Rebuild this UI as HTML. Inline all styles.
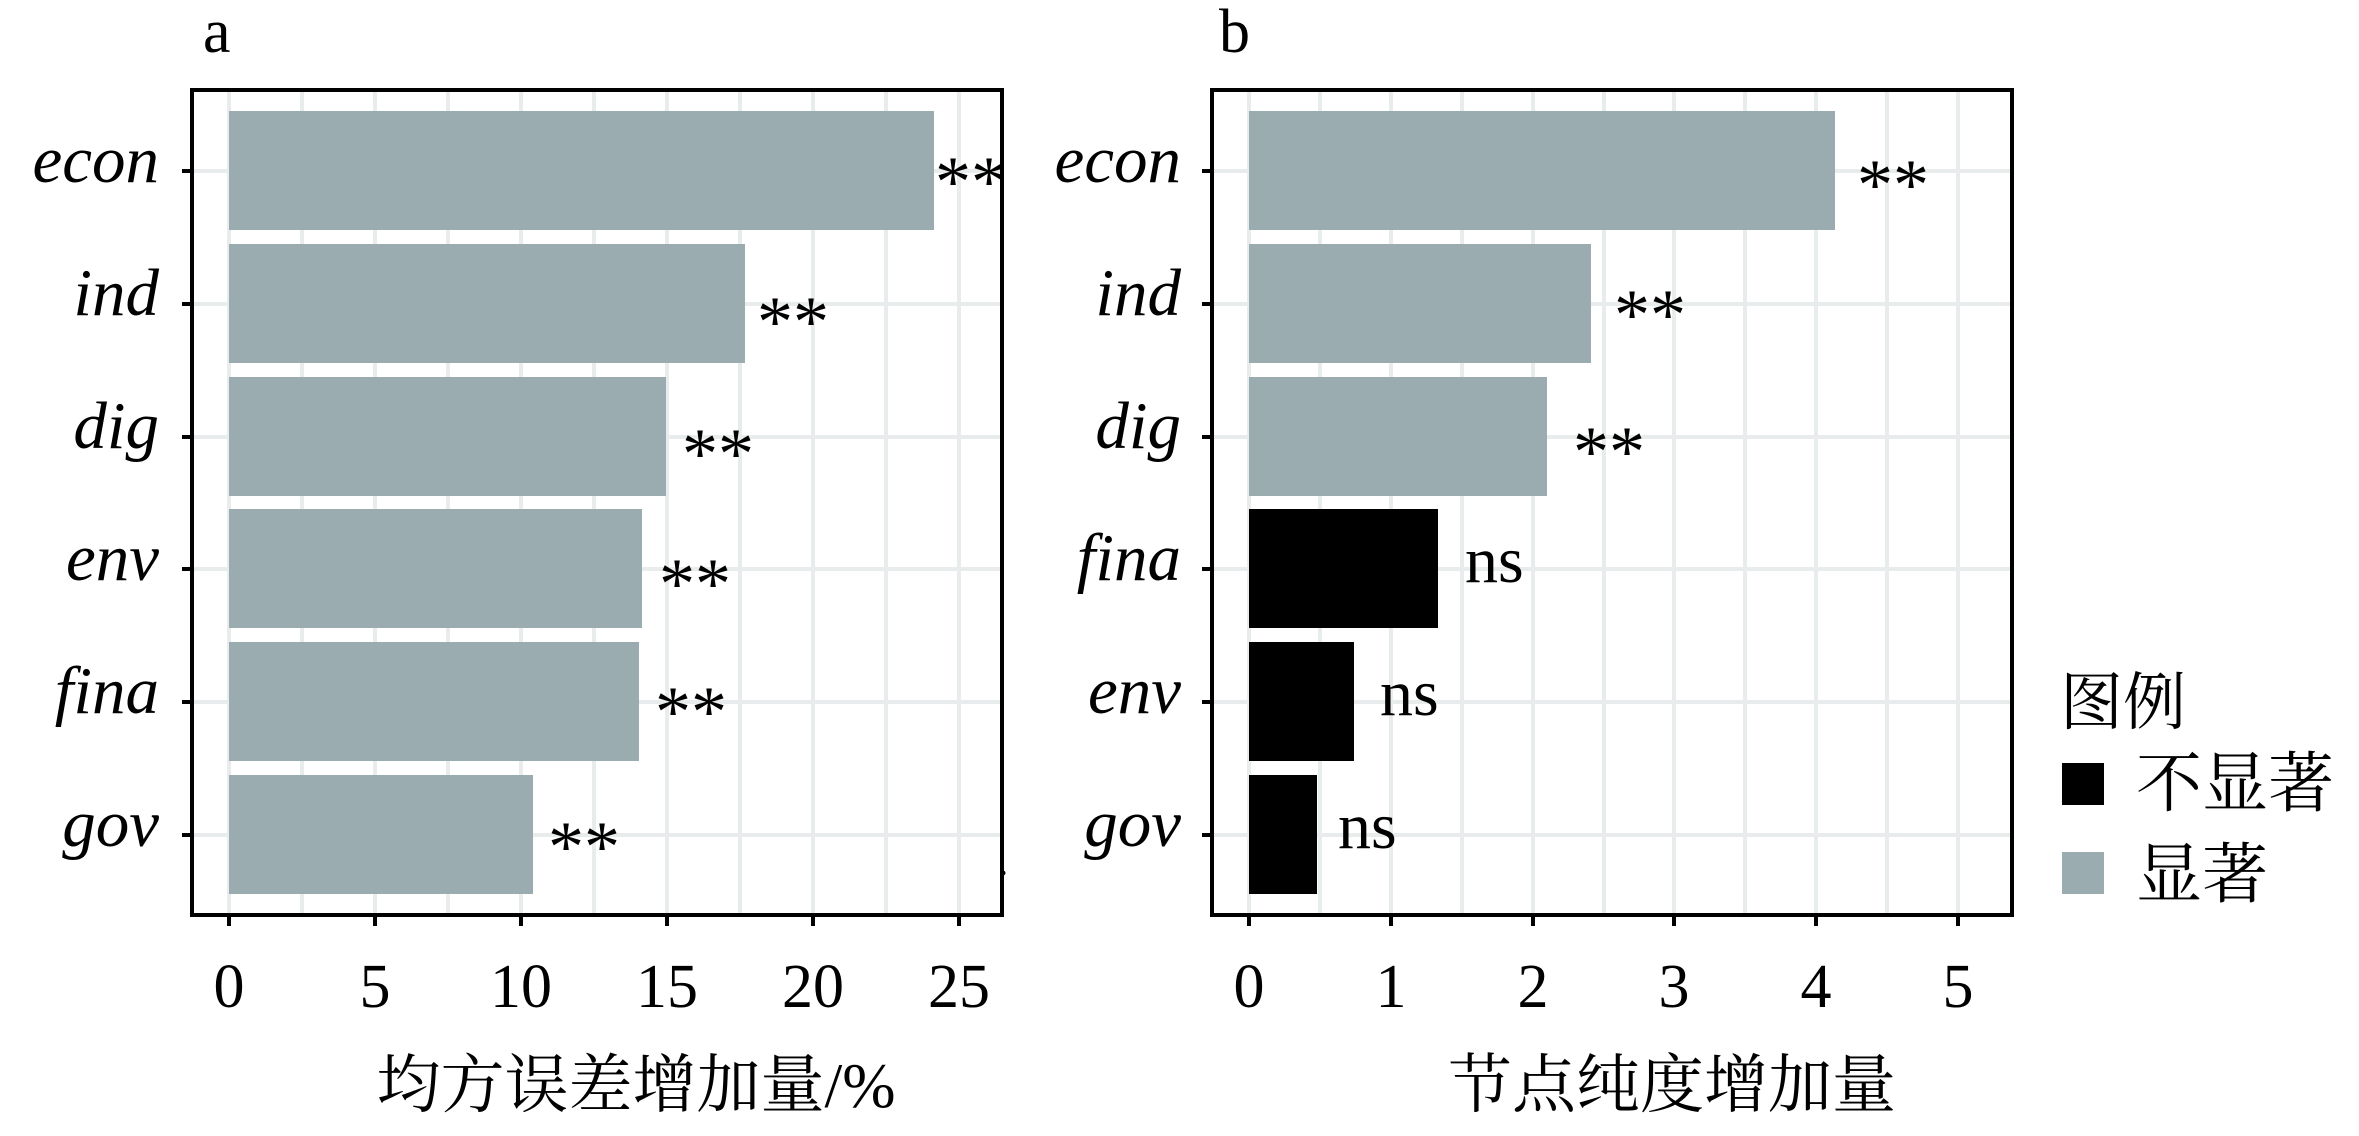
<!DOCTYPE html>
<html><head><meta charset="utf-8"><style>html,body{margin:0;padding:0;background:#fff}
.cjk{font-family:"Liberation Serif","Noto Serif CJK SC","Noto Serif CJK",serif}</style></head>
<body>
<svg width="2359" height="1131" viewBox="0 0 2359 1131" xmlns="http://www.w3.org/2000/svg">
<rect width="2359" height="1131" fill="#fff"/>
<g stroke="#e8ecec" stroke-width="4">
<line x1="229" y1="90" x2="229" y2="915"/><line x1="302" y1="90" x2="302" y2="915"/><line x1="375" y1="90" x2="375" y2="915"/><line x1="448" y1="90" x2="448" y2="915"/><line x1="521" y1="90" x2="521" y2="915"/><line x1="594" y1="90" x2="594" y2="915"/><line x1="667" y1="90" x2="667" y2="915"/><line x1="740" y1="90" x2="740" y2="915"/><line x1="813" y1="90" x2="813" y2="915"/><line x1="886" y1="90" x2="886" y2="915"/><line x1="959" y1="90" x2="959" y2="915"/>
<line x1="192" y1="171" x2="1002" y2="171"/><line x1="192" y1="304" x2="1002" y2="304"/><line x1="192" y1="437" x2="1002" y2="437"/><line x1="192" y1="569" x2="1002" y2="569"/><line x1="192" y1="702" x2="1002" y2="702"/><line x1="192" y1="835" x2="1002" y2="835"/>
<line x1="1249" y1="90" x2="1249" y2="915"/><line x1="1320" y1="90" x2="1320" y2="915"/><line x1="1391" y1="90" x2="1391" y2="915"/><line x1="1462" y1="90" x2="1462" y2="915"/><line x1="1533" y1="90" x2="1533" y2="915"/><line x1="1604" y1="90" x2="1604" y2="915"/><line x1="1674" y1="90" x2="1674" y2="915"/><line x1="1745" y1="90" x2="1745" y2="915"/><line x1="1816" y1="90" x2="1816" y2="915"/><line x1="1887" y1="90" x2="1887" y2="915"/><line x1="1958" y1="90" x2="1958" y2="915"/>
<line x1="1212" y1="171" x2="2012" y2="171"/><line x1="1212" y1="304" x2="2012" y2="304"/><line x1="1212" y1="437" x2="2012" y2="437"/><line x1="1212" y1="569" x2="2012" y2="569"/><line x1="1212" y1="702" x2="2012" y2="702"/><line x1="1212" y1="835" x2="2012" y2="835"/>
</g>
<g fill="#9aacb0">
<rect x="229" y="111" width="705" height="119"/>
<rect x="229" y="244" width="516" height="119"/>
<rect x="229" y="377" width="437" height="119"/>
<rect x="229" y="509" width="413" height="119"/>
<rect x="229" y="642" width="410" height="119"/>
<rect x="229" y="775" width="304" height="119"/>
<rect x="1249" y="111" width="586" height="119"/>
<rect x="1249" y="244" width="342" height="119"/>
<rect x="1249" y="377" width="298" height="119"/>
</g>
<g fill="#000">
<rect x="1249" y="509" width="189" height="119"/>
<rect x="1249" y="642" width="105" height="119"/>
<rect x="1249" y="775" width="68" height="119"/>
</g>
<rect x="192" y="90" width="810" height="825" fill="none" stroke="#000" stroke-width="4"/>
<rect x="1212" y="90" width="800" height="825" fill="none" stroke="#000" stroke-width="4"/>
<circle cx="1003" cy="873" r="2.5" fill="#000"/>
<g stroke="#000" stroke-width="4">
<line x1="182" y1="171" x2="192" y2="171"/><line x1="182" y1="304" x2="192" y2="304"/><line x1="182" y1="437" x2="192" y2="437"/><line x1="182" y1="569" x2="192" y2="569"/><line x1="182" y1="702" x2="192" y2="702"/><line x1="182" y1="835" x2="192" y2="835"/>
<line x1="1202" y1="171" x2="1212" y2="171"/><line x1="1202" y1="304" x2="1212" y2="304"/><line x1="1202" y1="437" x2="1212" y2="437"/><line x1="1202" y1="569" x2="1212" y2="569"/><line x1="1202" y1="702" x2="1212" y2="702"/><line x1="1202" y1="835" x2="1212" y2="835"/>
<line x1="229" y1="915" x2="229" y2="926"/><line x1="375" y1="915" x2="375" y2="926"/><line x1="521" y1="915" x2="521" y2="926"/><line x1="667" y1="915" x2="667" y2="926"/><line x1="813" y1="915" x2="813" y2="926"/><line x1="959" y1="915" x2="959" y2="926"/>
<line x1="1249" y1="915" x2="1249" y2="926"/><line x1="1391" y1="915" x2="1391" y2="926"/><line x1="1533" y1="915" x2="1533" y2="926"/><line x1="1674" y1="915" x2="1674" y2="926"/><line x1="1816" y1="915" x2="1816" y2="926"/><line x1="1958" y1="915" x2="1958" y2="926"/>
</g>
<g font-family="Liberation Serif, serif" font-style="italic" font-size="67" text-anchor="end" fill="#000">
<text x="159" y="182">econ</text><text x="159" y="315">ind</text><text x="159" y="448">dig</text><text x="159" y="580">env</text><text x="159" y="713">fina</text><text x="159" y="846">gov</text>
<text x="1181" y="182">econ</text><text x="1181" y="315">ind</text><text x="1181" y="448">dig</text><text x="1181" y="580">fina</text><text x="1181" y="713">env</text><text x="1181" y="846">gov</text>
</g>
<g font-family="Liberation Serif, serif" font-size="62" text-anchor="middle" fill="#000">
<text x="229" y="1007">0</text><text x="375" y="1007">5</text><text x="521" y="1007">10</text><text x="667" y="1007">15</text><text x="813" y="1007">20</text><text x="959" y="1007">25</text>
<text x="1249" y="1007">0</text><text x="1391" y="1007">1</text><text x="1533" y="1007">2</text><text x="1674" y="1007">3</text><text x="1816" y="1007">4</text><text x="1958" y="1007">5</text>
</g>
<g font-family="Liberation Serif, serif" font-size="72" fill="#000">
<text x="935" y="206">**</text><text x="757" y="346">**</text><text x="682" y="478">**</text><text x="659" y="608">**</text><text x="655" y="736">**</text><text x="548" y="871">**</text>
<text x="1857" y="209">**</text><text x="1614" y="339">**</text><text x="1573" y="476">**</text>
</g>
<g font-family="Liberation Serif, serif" font-size="66" fill="#000">
<text x="1465" y="582">ns</text><text x="1380" y="715">ns</text><text x="1338" y="848">ns</text>
</g>
<g font-family="Liberation Serif, serif" font-size="62" fill="#000">
<text x="203" y="52">a</text><text x="1219" y="52">b</text>
</g>
<g class="cjk" font-size="64" text-anchor="middle" fill="#000">
<text x="636" y="1107">均方误差增加量/%</text>
<text x="1672" y="1107">节点纯度增加量</text>
</g>
<g class="cjk" fill="#000">
<text x="2060" y="724" font-size="63">图例</text>
<rect x="2062" y="763" width="42" height="42" fill="#000"/>
<rect x="2062" y="852" width="42" height="42" fill="#9aacb0"/>
<text x="2136" y="806" font-size="66">不显著</text>
<text x="2136" y="897" font-size="66">显著</text>
</g>
</svg>
</body></html>
